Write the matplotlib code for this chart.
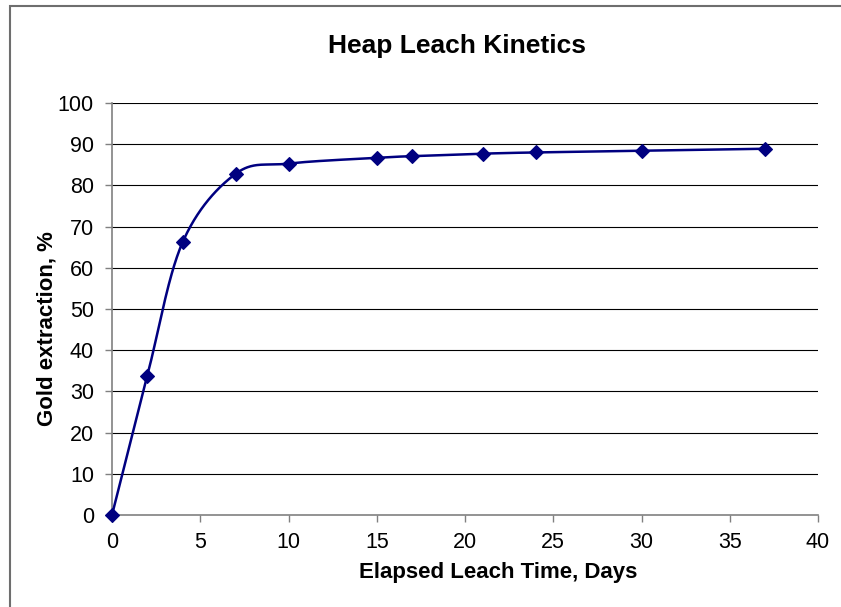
import numpy as np
import matplotlib
matplotlib.use("Agg")
import matplotlib.pyplot as plt
from matplotlib.patches import Rectangle

plt.rcParams['font.family'] = ['Liberation Sans', 'DejaVu Sans']

# leach test data
days = [0, 2, 4, 7, 10, 15, 17, 21, 24, 30, 37]
extraction = [0, 33.8, 66.2, 82.8, 85.3, 86.7, 87.1, 87.7, 88.0, 88.4, 88.9]

x_ticks = [0, 5, 10, 15, 20, 25, 30, 35, 40]
y_ticks = [0, 10, 20, 30, 40, 50, 60, 70, 80, 90, 100]

W, H = 841, 607
fig = plt.figure(figsize=(W / 100, H / 100), dpi=100)
ax = fig.add_axes([112 / W, 1 - 515 / H, (818 - 112) / W, (515 - 103) / H])

# chart area border (only top and left edges show)
fig.patches.append(Rectangle((9.5 / W, -0.05), 1.2, 1 - 5.5 / H + 0.05,
                             transform=fig.transFigure, fill=False,
                             edgecolor='#6e6e6e', linewidth=1.5, clip_on=False))


def smooth_line(xs, ys, sx, sy, n=60):
    # Excel-style smoothed line: cubic Bezier segments, built in screen units
    p = np.column_stack([np.asarray(xs) * sx, np.asarray(ys) * sy])
    p = np.vstack([p[0], p, p[-1]])
    out = []
    for i in range(1, len(p) - 2):
        p0, p1, p2, p3 = p[i - 1], p[i], p[i + 1], p[i + 2]
        c1 = p1 + (p2 - p0) / 6
        c2 = p2 - (p3 - p1) / 6
        t = np.linspace(0, 1, n)[:, None]
        seg = ((1 - t) ** 3 * p1 + 3 * (1 - t) ** 2 * t * c1
               + 3 * (1 - t) * t ** 2 * c2 + t ** 3 * p2)
        out.append(seg)
    out = np.vstack(out)
    return out[:, 0] / sx, out[:, 1] / sy


sx = (818 - 112) / 40
sy = (515 - 103) / 100
cx, cy = smooth_line(days, extraction, sx, sy)

ax.plot(cx, cy, color='#000080', linewidth=1.8, zorder=3, clip_on=False)
ax.plot(days, extraction, linestyle='none', marker='D', markersize=7.5,
        color='#000080', markeredgewidth=0.8, zorder=4, clip_on=False)

ax.set_xlim(0, 40)
ax.set_ylim(0, 100)
ax.set_xticks(x_ticks)
ax.set_yticks(y_ticks)

for v in y_ticks[1:]:
    ax.axhline(v, color='black', linewidth=0.8, zorder=1)

for side in ['top', 'right']:
    ax.spines[side].set_visible(False)
for side in ['left', 'bottom']:
    ax.spines[side].set_color('#808080')
    ax.spines[side].set_linewidth(1.2)

ax.tick_params(axis='both', direction='out', length=5, width=1.0,
               color='#808080', labelsize=15.5, labelcolor='black')
ax.tick_params(axis='y', pad=8)
ax.tick_params(axis='x', pad=7)

fig.text(457 / W, 1 - 53 / H, 'Heap Leach Kinetics', ha='center',
         va='baseline', fontsize=19, fontweight='bold')
fig.text(498 / W, 1 - 578 / H, 'Elapsed Leach Time, Days', ha='center',
         va='baseline', fontsize=16, fontweight='bold')
fig.text(47 / W, 1 - 329 / H, 'Gold extraction, %', ha='center',
         va='center', rotation=90, fontsize=16, fontweight='bold')

fig.savefig('out.png', dpi=100)
